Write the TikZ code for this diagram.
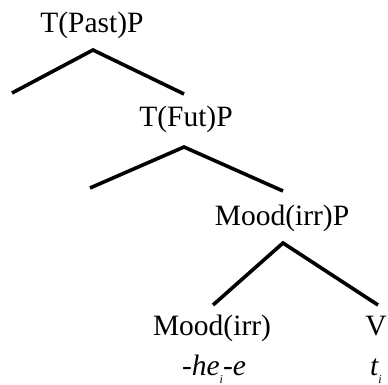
\documentclass[tikz,border=0pt]{standalone}
\usepackage{fontspec}
\setmainfont{Liberation Serif}
\begin{document}
\begin{tikzpicture}[x=1pt,y=-1pt,
  label/.style={inner sep=0pt,anchor=base,font=\fontsize{29.5}{31}\selectfont},
  branch/.style={line width=3.6pt,line join=miter}]
\useasboundingbox (0,0) rectangle (388,385);

% category labels
\node[label] (tpast) at (92,33) {T(Past)P};
\node[label] (tfut)  at (186,127) {T(Fut)P};
\node[label] (moodp) at (282,225) {Mood(irr)P};
\node[label] (mood)  at (212,335) {Mood(irr)};
\node[label] (v)     at (376,335) {V};

% lexical material
\node[label] (he) at (214,375)
  {\itshape -he\raisebox{-8pt}{\fontsize{12}{12}\selectfont i}-e};
\node[label] (t) at (376,375)
  {\itshape t\raisebox{-8pt}{\fontsize{12}{12}\selectfont i}};

% branching points and branch ends
\coordinate (a1) at (93,50);
\coordinate (l1) at (12,93);
\coordinate (r1) at (184,94);
\coordinate (a2) at (184,147);
\coordinate (l2) at (90,188);
\coordinate (r2) at (283,191);
\coordinate (a3) at (283,243);
\coordinate (l3) at (213,305);
\coordinate (r3) at (378,305);

\draw[branch] (l1) -- (a1) -- (r1);
\draw[branch] (l2) -- (a2) -- (r2);
\draw[branch] (l3) -- (a3) -- (r3);
\end{tikzpicture}
\end{document}
